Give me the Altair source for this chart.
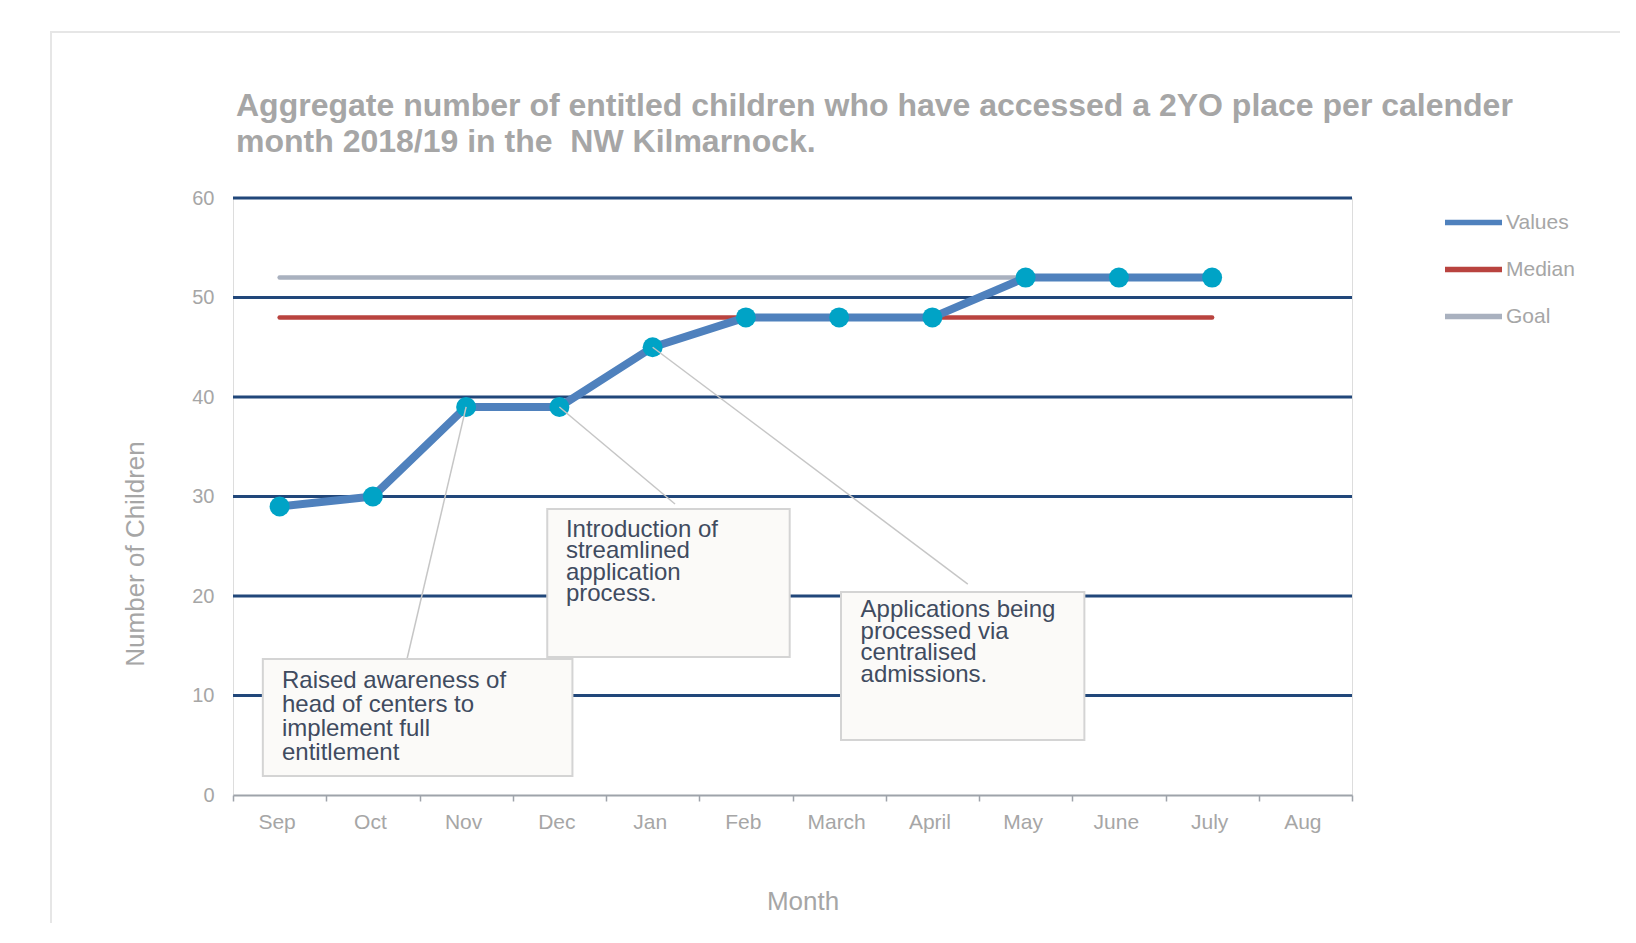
import json
import altair as alt
import pandas as pd

# ---------------- data ----------------
months = ["Sep", "Oct", "Nov", "Dec", "Jan", "Feb", "March", "April", "May", "June", "July", "Aug"]
value_months = ["Sep", "Oct", "Nov", "Dec", "Jan", "Feb", "March", "April", "May", "June", "July"]
values = [29, 30, 39, 39, 45, 48, 48, 48, 52, 52, 52]
median_values = [48, 48, 48, 48, 48, 48, 48, 48, 48, 48, 48]
goal_values = [52, 52, 52, 52, 52, 52, 52, 52, 52, 52, 52]
y_ticks = [0, 10, 20, 30, 40, 50, 60]
grid_lines = [10, 20, 30, 40, 50, 60]
series_names = ["Values", "Median", "Goal"]

title_lines = [
    "Aggregate number of entitled children who have accessed a 2YO place per calender",
    "month 2018/19 in the \u00a0NW Kilmarnock.",
]
x_title = "Month"
y_title = "Number of Children"

note_texts = [
    "Raised awareness of\nhead of centers to\nimplement full\nentitlement",
    "Introduction of\nstreamlined\napplication\nprocess.",
    "Applications being\nprocessed via\ncentralised\nadmissions.",
]
note_months = ["Nov", "Dec", "Jan"]
# box extents in data units (x: month index units, y: children)
note_box_x0 = [0.32, 3.37, 6.52]
note_box_x1 = [3.64, 5.97, 9.13]
note_box_y0 = [1.91, 13.87, 5.53]
note_box_y1 = [13.67, 28.74, 20.4]
note_text_x = [0.525, 3.57, 6.73]
note_text_y = [12.66, 27.84, 19.75]
note_line_heights = [24, 21.5, 21.5]
leader_x = [1.866, 4.74, 7.88]
leader_y = [13.67, 29.25, 21.2]

# ---------------- tables ----------------
pos = {m: i + 0.5 for i, m in enumerate(months)}
vals_df = pd.DataFrame({"month": value_months, "pos": [pos[m] for m in value_months],
                        "v": values, "series": "Values"})
ref_df = pd.concat([
    pd.DataFrame({"month": value_months, "pos": [pos[m] for m in value_months],
                  "v": median_values, "series": "Median"}),
    pd.DataFrame({"month": value_months, "pos": [pos[m] for m in value_months],
                  "v": goal_values, "series": "Goal"}),
])
grid_df = pd.DataFrame({"v": grid_lines})
point_lookup = dict(zip(value_months, values))
notes_df = pd.DataFrame({
    "text": note_texts,
    "bx0": note_box_x0, "bx1": note_box_x1, "by0": note_box_y0, "by1": note_box_y1,
    "tx": note_text_x, "ty": note_text_y,
    "lx": leader_x, "ly": leader_y,
    "px": [pos[m] for m in note_months], "py": [point_lookup[m] for m in note_months],
})
title_df = pd.DataFrame({"t": ["\n".join(title_lines)]})

# ---------------- style ----------------
W, H = 1119, 597
FONT = "Liberation Sans"
GRAY = "#A6A6A6"
NAVY = "#21477A"
band_px = W / len(months)

label_expr = "datum.value < 12 ? " + json.dumps(months) + "[datum.value] : ''"

x_axis = alt.Axis(values=list(range(13)), labelExpr=label_expr, labelOffset=band_px / 2 - 3,
                  labelFlush=False, labelOverlap=False, labelFontSize=21, labelColor=GRAY,
                  labelFont=FONT, tickColor="#9EA3AA", tickSize=6, tickWidth=1.5,
                  domainColor="#9EA3AA", domainWidth=2, labelPadding=10, grid=False,
                  titleFontSize=26, titleColor=GRAY, titleFontWeight="normal",
                  titlePadding=56, titleFont=FONT, titleX=W / 2 + 10)
y_axis = alt.Axis(values=y_ticks, grid=False, domain=False, ticks=False, tickSize=0,
                  labelPadding=19, labelFontSize=20, labelColor=GRAY, labelFont=FONT,
                  titleFontSize=26, titleColor=GRAY, titleFontWeight="normal",
                  titlePadding=43, titleFont=FONT, titleY=H / 2 + 57)
x_scale = alt.Scale(domain=[0, 12], nice=False, zero=False)
y_scale = alt.Scale(domain=[0, 60], nice=False)


def X(f):
    return alt.X(f"{f}:Q", scale=x_scale, axis=x_axis, title=x_title)


def Y(f):
    return alt.Y(f"{f}:Q", scale=y_scale, axis=y_axis, title=y_title)


color = alt.Color("series:N",
                  scale=alt.Scale(domain=series_names, range=["#4F81BD", "#B9433F", "#A9B1BF"]),
                  legend=alt.Legend(title=None, orient="none", legendX=1209, legendY=-7,
                                    symbolType="stroke", symbolSize=3249, symbolStrokeWidth=5.5,
                                    labelFontSize=21, labelColor=GRAY, labelFont=FONT,
                                    labelOffset=1, rowPadding=4, symbolOpacity=1))

frame = alt.Chart(pd.DataFrame({"a": [0]})).mark_rect(
    fillOpacity=0, stroke="#E6E6E6", strokeWidth=2
).encode(x=alt.value(-182), x2=alt.value(1600), y=alt.value(-166), y2=alt.value(900))

title = alt.Chart(title_df).mark_text(
    align="left", baseline="alphabetic", fontSize=32, fontWeight="bold", font=FONT,
    color=GRAY, lineBreak="\n", lineHeight=36
).encode(x=alt.value(3), y=alt.value(-82), text="t:N")

grid = alt.Chart(grid_df).mark_rule(color=NAVY, strokeWidth=3).encode(y=Y("v"))

refs = alt.Chart(ref_df).mark_line(strokeWidth=4.5, strokeCap="round").encode(
    x=X("pos"), y=Y("v"), color=color, detail="series:N")

line = alt.Chart(vals_df).mark_line(strokeWidth=8, strokeCap="round", strokeJoin="round").encode(
    x=X("pos"), y=Y("v"), color=color)

points = alt.Chart(vals_df).mark_point(filled=True, size=400, color="#00A3C6", opacity=1).encode(
    x=X("pos"), y=Y("v"))

leaders = alt.Chart(notes_df).mark_rule(color="#C6C6C6", strokeWidth=1.5).encode(
    x=X("lx"), y=Y("ly"), x2="px:Q", y2="py:Q")

boxes = alt.Chart(notes_df).mark_rect(fill="#FBFAF8", stroke="#D4D4D4", strokeWidth=2).encode(
    x=X("bx0"), x2="bx1:Q", y=Y("by0"), y2="by1:Q")

texts = []
for i in range(len(note_texts)):
    texts.append(
        alt.Chart(notes_df.iloc[[i]]).mark_text(
            align="left", baseline="top", fontSize=24, font=FONT, color="#404B5F",
            lineBreak="\n", lineHeight=note_line_heights[i]
        ).encode(x=X("tx"), y=Y("ty"), text="text:N")
    )

chart = alt.layer(frame, title, grid, refs, line, points, leaders, boxes, *texts).properties(
    width=W, height=H,
    autosize=alt.AutoSizeParams(type="none"),
    padding={"left": 225, "top": 190, "right": 268, "bottom": 128},
).configure_view(fill="#F1ECE6", strokeWidth=0).configure(background="white")

chart.save("out.html", embed_options={"renderer": "svg", "actions": False})
